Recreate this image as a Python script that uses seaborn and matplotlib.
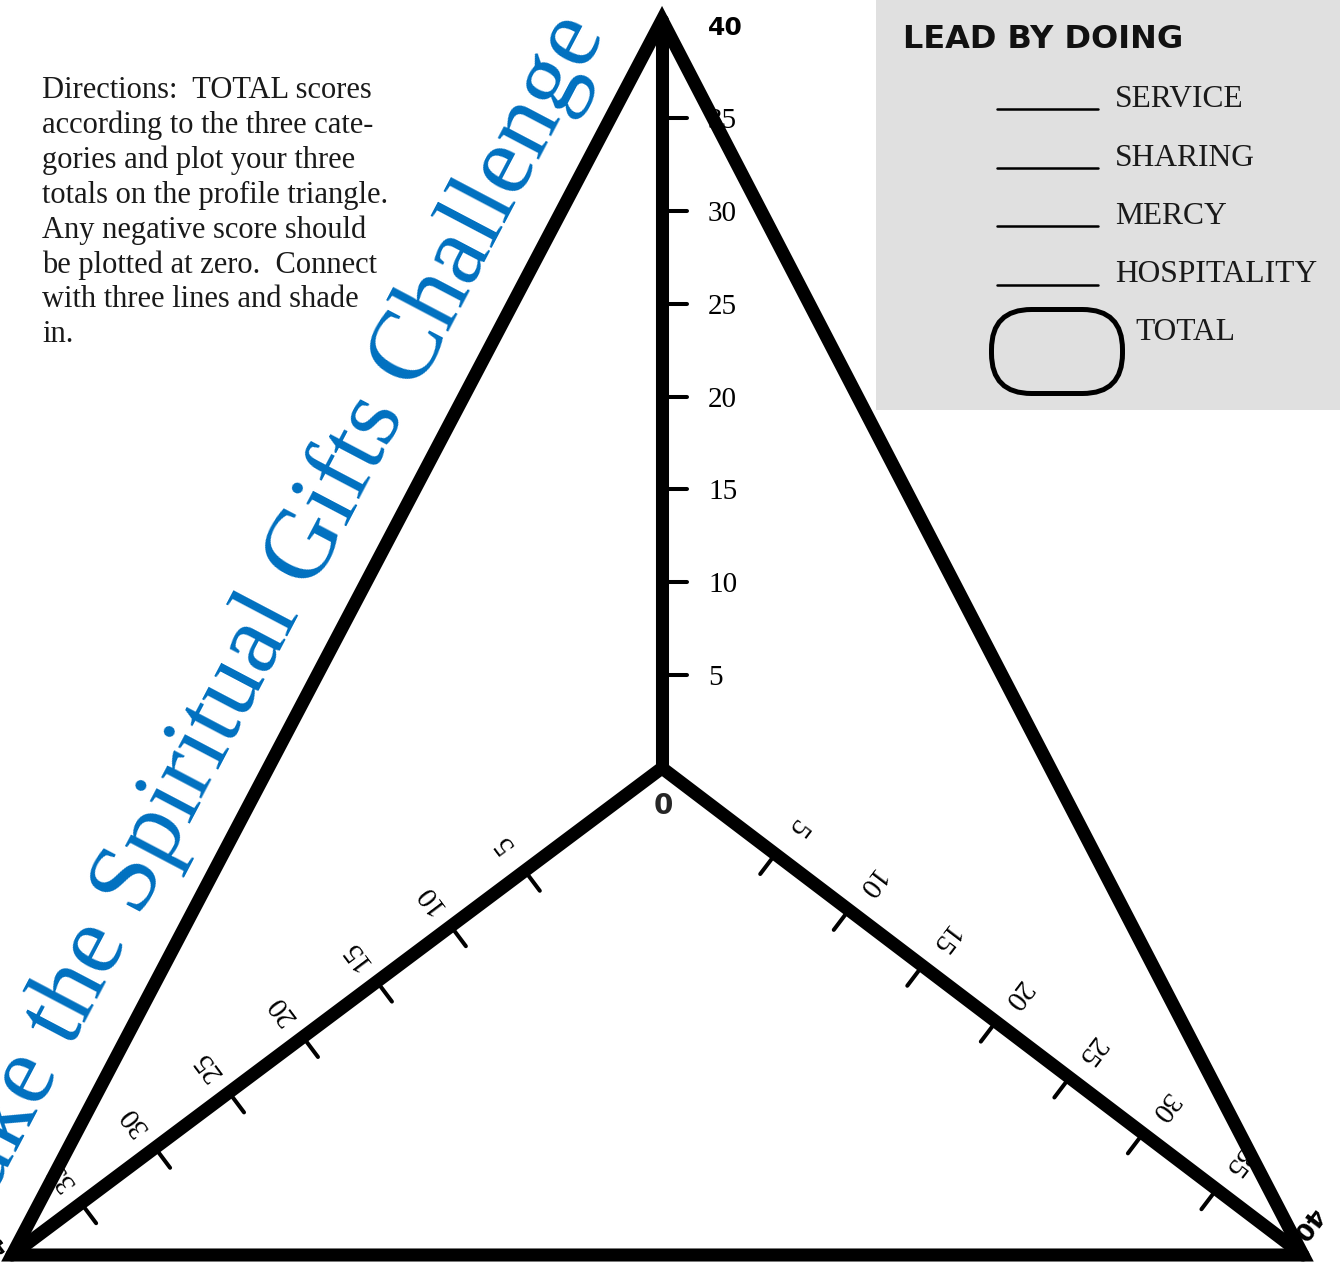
import numpy as np
import pandas as pd
import matplotlib
matplotlib.use("Agg")
import matplotlib.pyplot as plt
from matplotlib.patches import Polygon, FancyBboxPatch, Rectangle
import seaborn as sns

# ---- data ----
tick_values = [5, 10, 15, 20, 25, 30, 35]
label_values = [5, 10, 15, 20, 25, 30, 35, 40]
axis_names = ["top", "left", "right"]
directions_lines = [
    "Directions:  TOTAL scores",
    "according to the three cate-",
    "gories and plot your three",
    "totals on the profile triangle.",
    "Any negative score should",
    "be plotted at zero.  Connect",
    "with three lines and shade",
    "in.",
]
gift_labels = ["SERVICE", "SHARING", "MERCY", "HOSPITALITY"]
box_title = "LEAD BY DOING"
total_label = "TOTAL"
title = "Take the Spiritual Gifts Challenge"

# ---- layout (pixel space) ----
W, H = 1340, 1262
center = np.array([662.0, 768.0])
vertex = {"top": np.array([662.0, 20.0]),
          "left": np.array([12.0, 1255.0]),
          "right": np.array([1303.0, 1255.0])}
# start offset and pixels per unit of each scale
scale_start = {"top": 0.0, "left": 79.0, "right": 50.0}
scale_step = {"top": 18.57, "left": 18.48, "right": 18.47}
tick_side = {"top": 1, "left": -1, "right": -1}
BLUE = "#0070c0"

sns.set_theme(style="white")
plt.rcParams["font.family"] = ["Liberation Serif", "DejaVu Serif"]


def unit(v):
    return v / np.linalg.norm(v)


def axis_frame(name):
    d = unit(vertex[name] - center)
    if name == "top":
        n = np.array([1.0, 0.0])
    elif name == "left":
        n = np.array([-abs(d[1]), -abs(d[0])])
    else:
        n = np.array([abs(d[1]), -abs(d[0])])
    ang = np.degrees(np.arctan2(-d[1], d[0]))
    return d, n, ang


def axis_point(name, value):
    d, _, _ = axis_frame(name)
    return center + d * (scale_start[name] + scale_step[name] * value)


fig = plt.figure(figsize=(W / 100, H / 100), dpi=100)
ax = fig.add_axes([0, 0, 1, 1])
ax.set_xlim(0, W)
ax.set_ylim(H, 0)
ax.axis("off")

# grey legend box
ax.add_patch(Rectangle((876, 0), W - 876, 410, facecolor="#e0e0e0",
                       edgecolor="none", zorder=0))

# axis spines from the centre to each corner
rows = []
for name in axis_names:
    for p in [center, vertex[name]]:
        rows.append({"seg": name, "x": p[0], "y": p[1]})
spines = pd.DataFrame(rows)
sns.lineplot(data=spines, x="x", y="y", units="seg", estimator=None,
             sort=False, color="black", linewidth=9.4, ax=ax, zorder=3,
             solid_capstyle="round")

# tick marks
rows = []
for name in axis_names:
    d, n, ang = axis_frame(name)
    for v in tick_values:
        p = axis_point(name, v)
        q = p + n * tick_side[name] * 25
        seg = f"{name}{v}"
        rows.append({"seg": seg, "x": p[0], "y": p[1]})
        rows.append({"seg": seg, "x": q[0], "y": q[1]})
ticks = pd.DataFrame(rows)
sns.lineplot(data=ticks, x="x", y="y", units="seg", estimator=None,
             sort=False, color="black", linewidth=2.9, ax=ax, zorder=2)

# tick labels
for name in axis_names:
    d, n, ang = axis_frame(name)
    for v in label_values:
        p = axis_point(name, v)
        bold = v == 40
        kw = dict(color="black", zorder=1)
        if bold:
            kw.update(fontfamily="DejaVu Sans", fontweight="bold", fontsize=18)
        else:
            kw.update(fontsize=21)
        if name == "top":
            ax.text(p[0] + 46, p[1] + 3, str(v), ha="left", va="center", **kw)
        else:
            q = p + n * (34 if not bold else 26)
            ax.text(q[0], q[1], str(v), ha="center", va="center",
                    rotation=ang - 90, rotation_mode="anchor", **kw)
ax.text(center[0] + 1, center[1] + 38, "0", ha="center", va="center",
        fontfamily="DejaVu Sans", fontweight="bold", fontsize=20, zorder=1)

# outer triangle
tri = Polygon([vertex["top"], vertex["left"], vertex["right"]], closed=True,
              fill=False, edgecolor="black", linewidth=9.4,
              joinstyle="miter", zorder=4)
ax.add_patch(tri)

# rotated title along the left edge
e = vertex["top"] - vertex["left"]
title_ang = np.degrees(np.arctan2(-e[1], e[0]))
ax.text(605, 33, title, color=BLUE, fontsize=72, ha="right", va="baseline",
        rotation=title_ang, rotation_mode="anchor", zorder=5)

# directions paragraph
for i, line in enumerate(directions_lines):
    ax.text(42, 98 + 34.9 * i, line, fontsize=22, color="#1a1a1a",
            ha="left", va="baseline")

# legend box contents
ax.text(903, 48, box_title, fontfamily="DejaVu Sans", fontweight="bold",
        fontsize=23, color="#111111", ha="left", va="baseline")
for i, lab in enumerate(gift_labels):
    yb = 107 + 58.5 * i
    ax.plot([997, 1098], [yb + 2, yb + 2], color="black", linewidth=1.8)
    ax.text(1115, yb, lab, fontsize=22.7, color="#1a1a1a", ha="left",
            va="baseline")
ax.add_patch(FancyBboxPatch((991.5, 309.5), 131, 84,
                            boxstyle="round,pad=0,rounding_size=40",
                            fill=False, edgecolor="black", linewidth=3.6))
ax.text(1135, 340, total_label, fontsize=22.7, color="#1a1a1a", ha="left",
        va="baseline")

fig.savefig("out.png", dpi=100, facecolor="white")
